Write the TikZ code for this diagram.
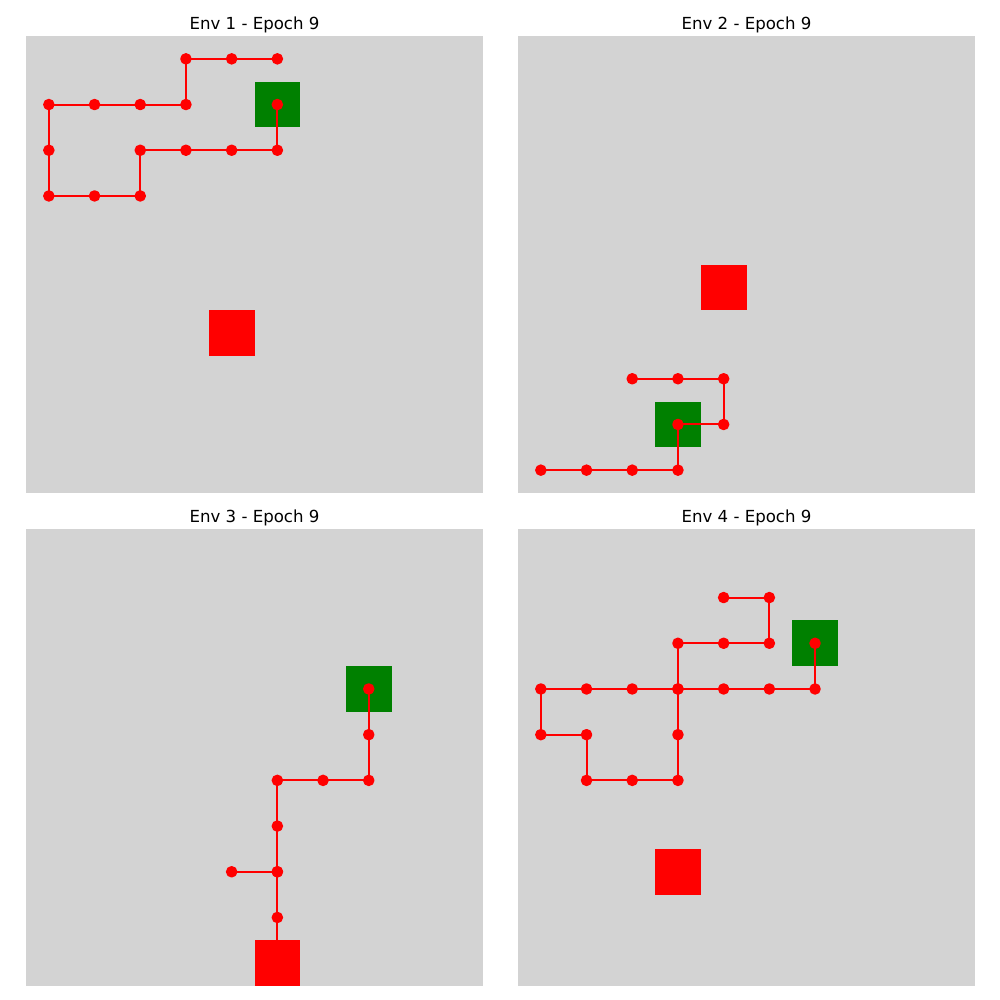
\documentclass[tikz,border=0pt]{standalone}
\usepackage{fontspec}
\setmainfont{DejaVu Sans}
\usetikzlibrary{positioning}
\definecolor{gridgray}{HTML}{D3D3D3}
\definecolor{goalgreen}{HTML}{008000}
\definecolor{agentred}{HTML}{FF0000}

\begin{document}
\begin{tikzpicture}[
  x=1.1608cm, y=-1.1608cm,
  board/.style={fill=gridgray},
  goalcell/.style={fill=goalgreen},
  agentcell/.style={fill=agentred},
  trail/.style={draw=agentred, line width=1.5pt, line join=round,
    shift={(.5,.5)}},
  trailmark/.style={mark=*, mark size=3.4pt, mark options={fill=agentred, draw=agentred}},
  paneltitle/.style={anchor=base, font=\fontsize{12}{14}\selectfont},
]
  \useasboundingbox (0cm,0cm) rectangle (25.4cm,-25.4cm);

  % Env 1
  \begin{scope}[shift={(0.6604cm,-0.9144cm)}]
    \fill[board] (0,0) rectangle (10,10);
    \fill[goalcell] (5,1) rectangle (6,2);
    \fill[agentcell] (4,6) rectangle (5,7);
    \draw[trail] plot[trailmark] coordinates {(5,0) (4,0) (3,0) (3,1) (2,1)
      (1,1) (0,1) (0,2) (0,3) (1,3) (2,3) (2,2) (3,2) (4,2) (5,2) (5,1)};
    \node[paneltitle] (t1) at (5,-0.15) {Env 1 - Epoch 9};
  \end{scope}

  % Env 2
  \begin{scope}[shift={(13.157cm,-0.9144cm)}]
    \fill[board] (0,0) rectangle (10,10);
    \fill[goalcell] (3,8) rectangle (4,9);
    \fill[agentcell] (4,5) rectangle (5,6);
    \draw[trail] plot[trailmark] coordinates {(2,7) (3,7) (4,7) (4,8) (3,8)
      (3,9) (2,9) (1,9) (0,9)};
    \node[paneltitle] (t2) at (5,-0.15) {Env 2 - Epoch 9};
  \end{scope}

  % Env 3
  \begin{scope}[shift={(0.6604cm,-13.437cm)}]
    \fill[board] (0,0) rectangle (10,10);
    \fill[goalcell] (7,3) rectangle (8,4);
    \draw[trail] plot[trailmark] coordinates {(5,9) (5,8) (5,7) (4,7) (5,7)
      (5,6) (5,5) (6,5) (7,5) (7,4) (7,3)};
    \fill[agentcell] (5,9) rectangle (6,10);
    \node[paneltitle] (t3) at (5,-0.15) {Env 3 - Epoch 9};
  \end{scope}

  % Env 4
  \begin{scope}[shift={(13.157cm,-13.437cm)}]
    \fill[board] (0,0) rectangle (10,10);
    \fill[goalcell] (6,2) rectangle (7,3);
    \fill[agentcell] (3,7) rectangle (4,8);
    \draw[trail] plot[trailmark] coordinates {(4,1) (5,1) (5,2) (4,2) (3,2)
      (3,3) (3,4) (3,5) (2,5) (1,5) (1,4) (0,4) (0,3) (1,3) (2,3) (3,3)
      (4,3) (5,3) (6,3) (6,2)};
    \node[paneltitle] (t4) at (5,-0.15) {Env 4 - Epoch 9};
  \end{scope}
\end{tikzpicture}
\end{document}
